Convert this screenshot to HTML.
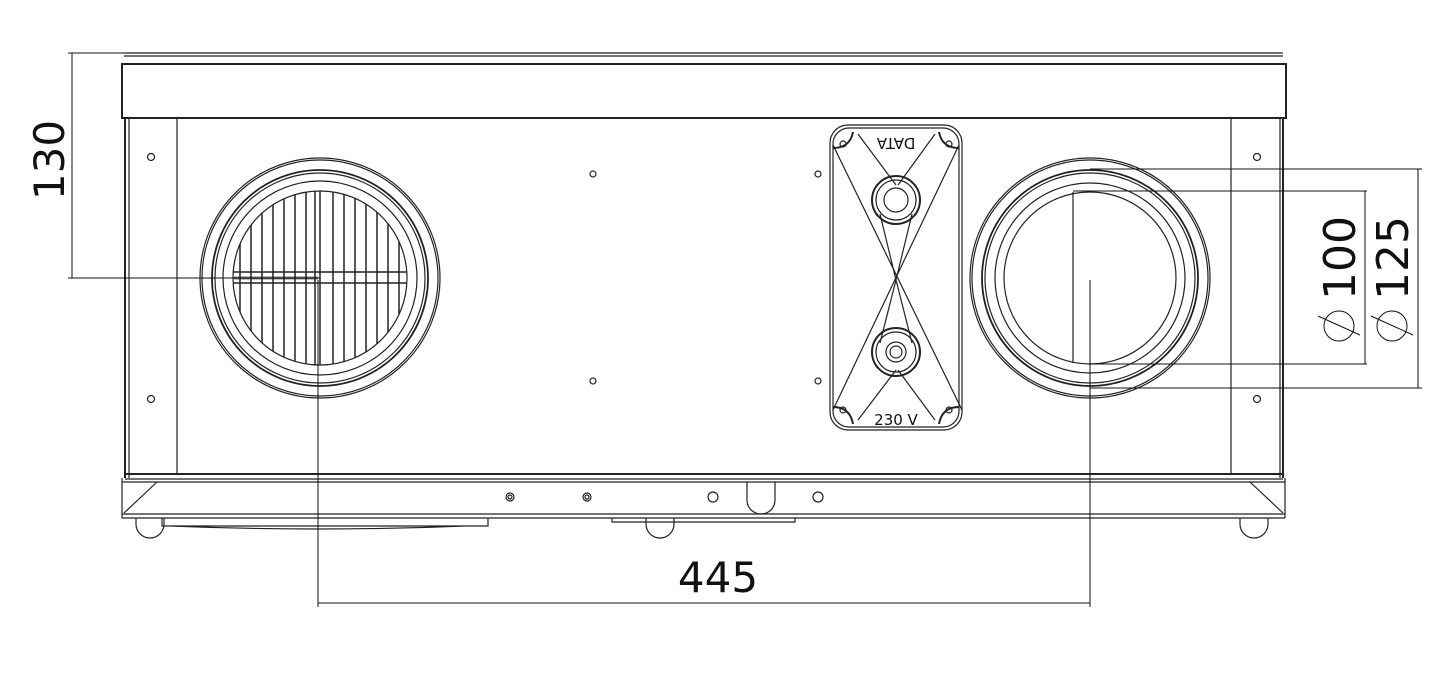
<!DOCTYPE html>
<html><head><meta charset="utf-8"><style>
html,body{margin:0;padding:0;background:#fff;}
svg{display:block;}
text{font-family:"DejaVu Sans","Liberation Sans",sans-serif;fill:#111;}
</style></head><body>
<svg width="1445" height="685" viewBox="0 0 1445 685" xmlns="http://www.w3.org/2000/svg">
<defs>
<clipPath id="g"><circle cx="320" cy="278" r="87"/></clipPath>
</defs>
<g fill="none" stroke="#222" stroke-width="1.2">
<!-- lid -->
<line x1="124" y1="53" x2="1283" y2="53"/>
<line x1="124" y1="56" x2="1283" y2="56"/>
<rect x="122" y="64" width="1164" height="54" stroke-width="2"/>
<!-- body -->
<line x1="125" y1="118" x2="125" y2="478" stroke-width="2"/>
<line x1="1283" y1="118" x2="1283" y2="478" stroke-width="2"/>
<line x1="129" y1="118" x2="129" y2="478"/>
<line x1="1280" y1="118" x2="1280" y2="478"/>
<line x1="177" y1="118" x2="177" y2="473"/>
<line x1="1231" y1="118" x2="1231" y2="473"/>
<line x1="125" y1="474" x2="1283" y2="474" stroke-width="2"/>
<line x1="125" y1="479" x2="1283" y2="479"/>
<!-- bottom strip -->
<line x1="122" y1="482" x2="1285" y2="482"/>
<line x1="122" y1="514" x2="1285" y2="514"/>
<line x1="122" y1="518" x2="1285" y2="518"/>
<line x1="122" y1="478" x2="122" y2="518"/>
<line x1="1285" y1="478" x2="1285" y2="518"/>
<line x1="157" y1="482" x2="124" y2="513"/>
<line x1="1250" y1="482" x2="1283" y2="513"/>
<path d="M747 482 V500 A13 13 0 0 0 775 500 V482"/>
<!-- feet -->
<path d="M136 518 V524 A14 14 0 0 0 164 524 V518"/>
<path d="M646 518 V524 A14 14 0 0 0 674 524 V518"/>
<path d="M1240 518 V524 A14 14 0 0 0 1268 524 V518"/>
<path d="M162 518 V526 H488 V518 M170 526 Q320 532 465 526"/>
<path d="M612 518 V522 H795 V518 M625 522 H790"/>
<!-- screws -->
<circle cx="510" cy="497" r="4"/><circle cx="510" cy="497" r="2"/>
<circle cx="587" cy="497" r="4"/><circle cx="587" cy="497" r="2"/>
<circle cx="713" cy="497" r="5"/><circle cx="818" cy="497" r="5"/>
<!-- holes -->
<circle cx="151" cy="157" r="3.5"/><circle cx="151" cy="399" r="3.5"/>
<circle cx="1257" cy="157" r="3.5"/><circle cx="1257" cy="399" r="3.5"/>
<circle cx="593" cy="174" r="3"/><circle cx="593" cy="381" r="3"/>
<circle cx="818" cy="174" r="3"/><circle cx="818" cy="381" r="3"/>
<!-- left vent -->
<circle cx="320" cy="278" r="120"/><circle cx="320" cy="278" r="118"/>
<circle cx="320" cy="278" r="108" stroke-width="1.8"/><circle cx="320" cy="278" r="105"/>
<circle cx="320" cy="278" r="97"/><circle cx="320" cy="278" r="87"/>
<g clip-path="url(#g)" stroke-width="1.5">
<line x1="232" y1="272" x2="408" y2="272"/><line x1="232" y1="283" x2="408" y2="283"/>
<line x1="232" y1="278" x2="318" y2="278" stroke="#777" stroke-width="3"/>
<path d="M240 190V370M251 190V370M262 190V370M273 190V370M284 190V370M295 190V370M306 190V370M315 190V370M320 190V370M333 190V370M344 190V370M355 190V370M366 190V370M377 190V370M388 190V370M399 190V370"/>
</g>
<!-- right duct -->
<circle cx="1090" cy="278" r="120"/><circle cx="1090" cy="278" r="118"/>
<circle cx="1090" cy="278" r="108" stroke-width="1.8"/><circle cx="1090" cy="278" r="105"/>
<circle cx="1090" cy="278" r="95"/><circle cx="1090" cy="278" r="86"/>
<line x1="1073" y1="192" x2="1073" y2="363"/>
<!-- control box -->
<rect x="830" y="125" width="132" height="305" rx="18"/>
<rect x="833" y="128" width="126" height="299" rx="16"/>
<path d="M833 145 L962 410 M959 145 L833 410 M858 134 L896 185 M935 134 L898 185 M880 214 L896 280 L912 214 M880 343 L896 280 L912 343 M858 420 L896 370 M935 420 L898 370"/>
<circle cx="896" cy="200" r="24" stroke-width="2"/><circle cx="896" cy="200" r="20"/><circle cx="896" cy="200" r="12"/>
<circle cx="896" cy="352" r="24" stroke-width="2"/><circle cx="896" cy="352" r="20"/><circle cx="896" cy="352" r="10"/><circle cx="896" cy="352" r="6"/>
<path d="M833 148 Q850 148 853 132" stroke-width="2"/><circle cx="843" cy="144" r="3"/>
<path d="M959 148 Q942 148 939 132" stroke-width="2"/><circle cx="949" cy="144" r="3"/>
<path d="M833 407 Q850 407 853 424" stroke-width="2"/><circle cx="843" cy="410" r="3"/>
<path d="M959 407 Q942 407 939 424" stroke-width="2"/><circle cx="949" cy="410" r="3"/>
</g>
<g fill="none" stroke="#111" stroke-width="1">
<!-- dim 130 -->
<line x1="68" y1="53" x2="124" y2="53"/>
<line x1="68" y1="278" x2="320" y2="278"/>
<line x1="72" y1="53" x2="72" y2="278"/>
<!-- dim 445 -->
<line x1="318" y1="280" x2="318" y2="607"/>
<line x1="1090" y1="280" x2="1090" y2="607"/>
<line x1="318" y1="603" x2="1090" y2="603"/>
<!-- dim 125/100 -->
<line x1="1090" y1="169" x2="1422" y2="169"/>
<line x1="1090" y1="388" x2="1422" y2="388"/>
<line x1="1418" y1="169" x2="1418" y2="388"/>
<line x1="1073" y1="191" x2="1367" y2="191"/>
<line x1="1090" y1="364" x2="1367" y2="364"/>
<line x1="1365" y1="191" x2="1365" y2="364"/>
<circle cx="1339" cy="326" r="15"/><line x1="1318" y1="316" x2="1360" y2="335"/>
<circle cx="1392" cy="326" r="15"/><line x1="1371" y1="316" x2="1413" y2="335"/>
</g>
<text x="718" y="592" font-size="42" text-anchor="middle">445</text>
<text transform="translate(64,160) rotate(-90)" font-size="42" text-anchor="middle">130</text>
<text transform="translate(1355,258) rotate(-90)" font-size="44" text-anchor="middle">100</text>
<text transform="translate(1408,258) rotate(-90)" font-size="44" text-anchor="middle">125</text>
<text transform="translate(896,138) rotate(180)" font-size="15" text-anchor="middle">DATA</text>
<text x="896" y="425" font-size="15" text-anchor="middle">230 V</text>
</svg>
</body></html>
